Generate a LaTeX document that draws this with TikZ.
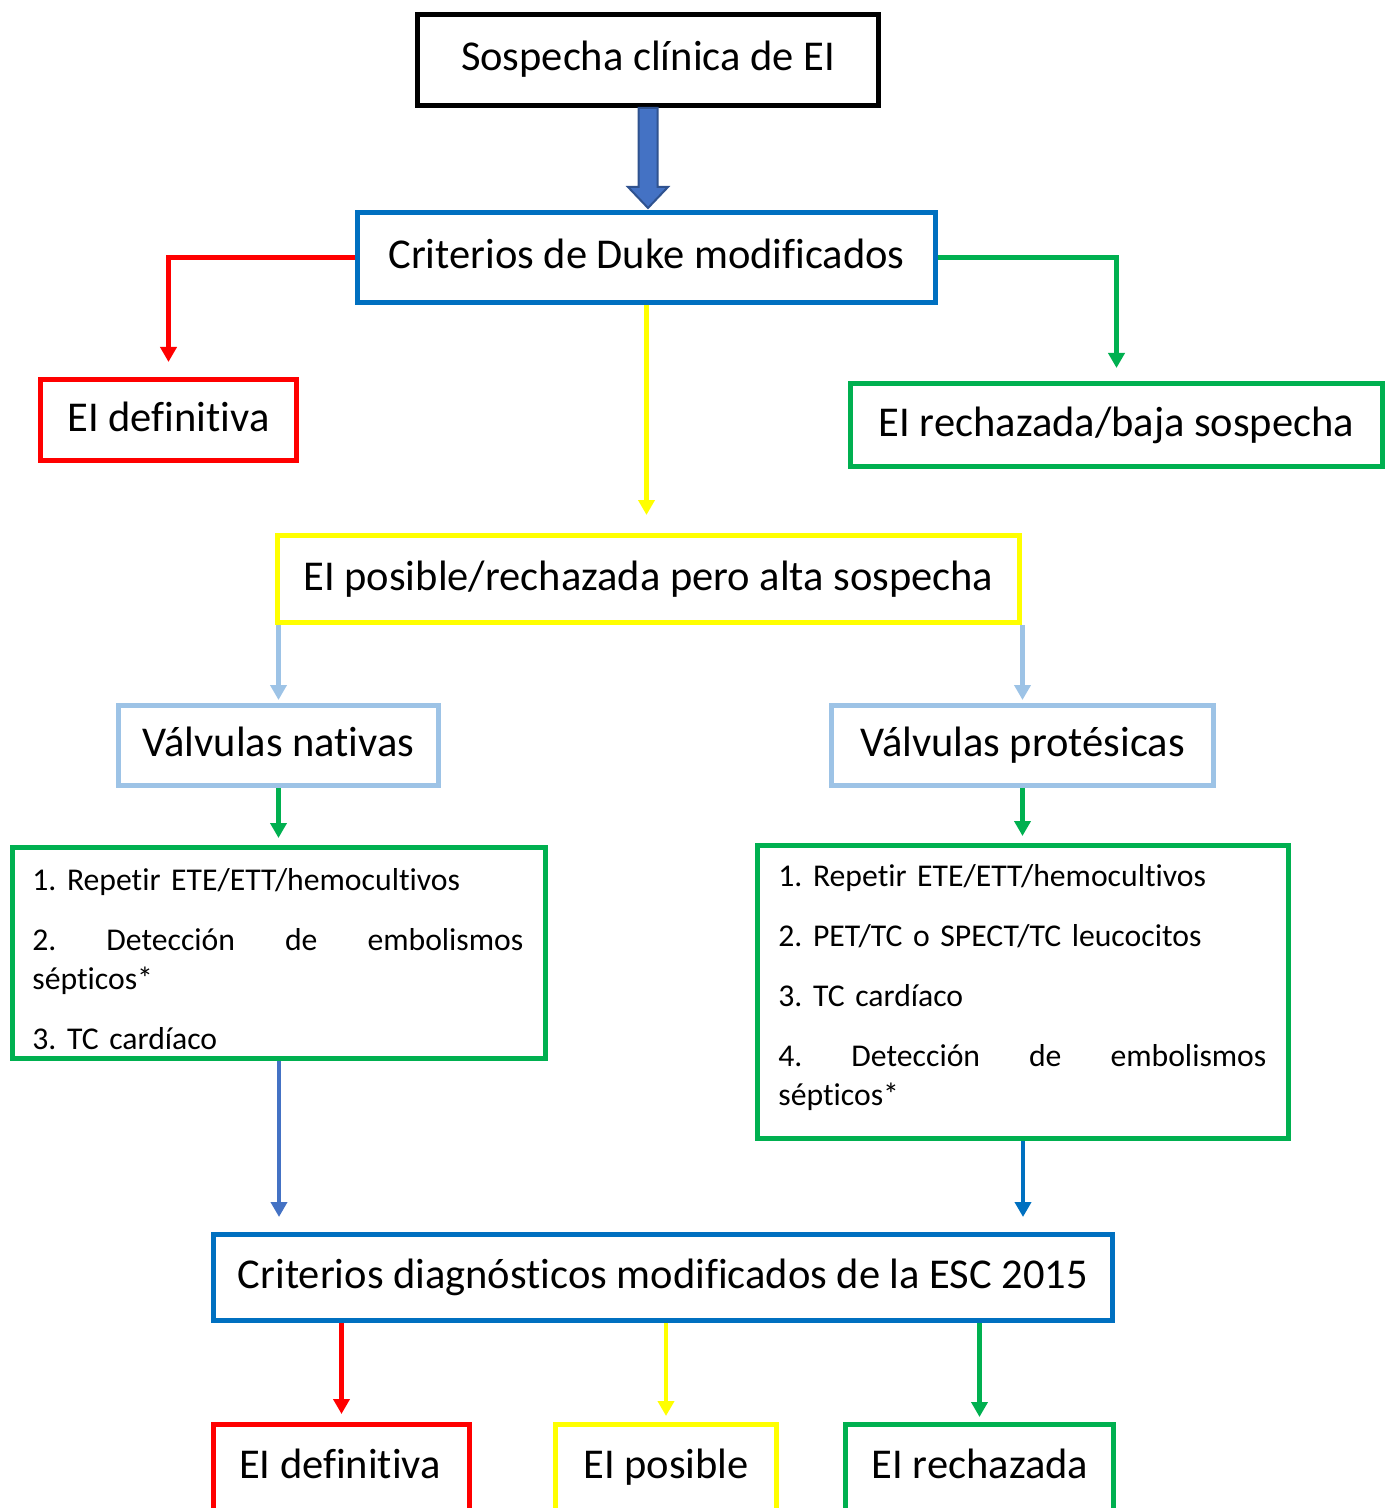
\documentclass[tikz,border=0pt]{standalone}
\usepackage{fontspec}
\setmainfont{Carlito}[Ligatures={NoCommon}]
\usetikzlibrary{arrows.meta,calc}
\definecolor{msblue}{HTML}{0070C0}
\definecolor{msred}{HTML}{FF0000}
\definecolor{msgreen}{HTML}{00B050}
\definecolor{msyellow}{HTML}{FFFF00}
\definecolor{mslblue}{HTML}{9DC3E6}
\definecolor{arrowfill}{HTML}{4472C4}
\definecolor{arrowedge}{HTML}{2F528F}
\frenchspacing
\tikzset{
  box/.style={draw, line width=2.5pt, rectangle, inner sep=0pt, text height=15.5pt, text depth=4.5pt, font=\fontsize{21.25}{25}\selectfont},
  bigtext/.style={inner sep=0pt, anchor=base, font=\fontsize{21.25}{25}\selectfont},
  conn/.style={line width=2.25pt, -{Triangle[length=7.5pt,width=8pt]}},
  listtext/.style={anchor=north west, inner sep=0pt, align=left, font=\fontsize{15.85}{19.5}\selectfont},
}
\begin{document}
\begin{tikzpicture}[x=0.5pt,y=-0.5pt]
\useasboundingbox (0,0) rectangle (1393,1508);
\clip (0,0) rectangle (1393,1508);
% boxes
\node[box, minimum width=230.5pt, minimum height=45.5pt] (sosp) at (648,60) {Sospecha clínica de EI};
\node[box, draw=msblue, minimum width=289pt, minimum height=45pt] (duke) at (646.5,257.5) {Criterios de Duke modificados};
\node[box, draw=msred, minimum width=128pt, minimum height=40.5pt] (def1) at (168.5,420) {EI definitiva};
\node[box, draw=msgreen, minimum width=266pt, minimum height=41.5pt] (rech1) at (1116.5,425) {EI rechazada/baja sospecha};
\node[box, draw=msyellow, minimum width=371pt, minimum height=43.5pt] (posib) at (648.5,579) {EI posible/rechazada pero alta sospecha};
\node[box, draw=mslblue, minimum width=160pt, minimum height=40pt] (nat) at (278.5,745.5) {Válvulas nativas};
\node[box, draw=mslblue, minimum width=191pt, minimum height=40pt] (prot) at (1022.5,745.5) {Válvulas protésicas};
\node[box, draw=msgreen, minimum width=266.5pt, minimum height=105.5pt] (listL) at (279,953) {};
\node[box, draw=msgreen, minimum width=265.5pt, minimum height=146.5pt] (listR) at (1023,992) {};
\node[box, draw=msblue, minimum width=449.5pt, minimum height=43pt] (esc) at (663,1277.5) {Criterios diagnósticos modificados de la ESC 2015};
\node[box, draw=msred, anchor=north, minimum width=128pt, minimum height=100pt] (def2) at (341.5,1422) {};
\node[box, draw=msyellow, anchor=north, minimum width=110.5pt, minimum height=100pt] (pos2) at (666,1422) {};
\node[box, draw=msgreen, anchor=north, minimum width=134pt, minimum height=100pt] (rech2) at (979.5,1422) {};
\node[bigtext] (def2t) at (340,1478) {EI definitiva};
\node[bigtext] (pos2t) at (666,1478) {EI posible};
\node[bigtext] (rech2t) at (980,1478) {EI rechazada};
% list texts
\node[listtext, text width=245.5pt] (listLt) at ($(listL.north west)+(22,21)$) {\rule{0pt}{12pt}1. Repetir ETE/ETT/hemocultivos\\[10.5pt]
\leavevmode\hbox to 245.5pt{2.\hfill Detección\hfill de\hfill embolismos}\\
sépticos*\\[10.5pt]
3. TC cardíaco};
\node[listtext, text width=244pt] (listRt) at ($(listR.north west)+(23,19)$) {\rule{0pt}{12pt}1. Repetir ETE/ETT/hemocultivos\\[10.5pt]
2. PET/TC o SPECT/TC leucocitos\\[10.5pt]
3. TC cardíaco\\[10.5pt]
\leavevmode\hbox to 244pt{4.\hfill Detección\hfill de\hfill embolismos}\\
sépticos*};
% block arrow
\coordinate (ba1) at (sosp.south);
\coordinate (ba2) at (sosp.south |- duke.north);
\filldraw[fill=arrowfill, draw=arrowedge, line width=1pt, line join=miter]
  ($(ba1)+(-9.5,0)$) -- ($(ba2)+(-9.5,-23)$) -- ($(ba2)+(-20,-23)$) -- ($(ba2)+(0,-2)$)
  -- ($(ba2)+(20,-23)$) -- ($(ba2)+(9.5,-23)$) -- ($(ba1)+(9.5,0)$) -- cycle;
% connectors
\draw[conn, msred, shorten >=7.5pt] (duke.west) -| (def1.north);
\draw[conn, msgreen, shorten >=6.5pt] (duke.east) -| (rech1.north);
\draw[conn, msyellow, shorten >=9pt] (duke.south) -- (duke.south |- posib.north);
\draw[conn, mslblue, shorten >=1.5pt] (posib.south west -| nat.north) -- (nat.north);
\draw[conn, mslblue, shorten >=1.5pt] (posib.south east -| prot.north) -- (prot.north);
\draw[conn, msgreen, shorten >=3.5pt] (nat.south) -- (nat.south |- listL.north);
\draw[conn, msgreen, shorten >=3.5pt] (prot.south) -- (prot.south |- listR.north);
\draw[conn, arrowfill, shorten >=7.5pt] (listL.south) -- (listL.south |- esc.north);
\draw[conn, msblue, shorten >=7.5pt] (listR.south) -- (listR.south |- esc.north);
\draw[conn, msred, shorten >=4pt] (esc.south -| def2.north) -- (def2.north);
\draw[conn, msyellow, shorten >=3pt] (esc.south -| pos2.north) -- (pos2.north);
\draw[conn, msgreen, shorten >=2.5pt] (esc.south -| rech2.north) -- (rech2.north);
\end{tikzpicture}
\end{document}
